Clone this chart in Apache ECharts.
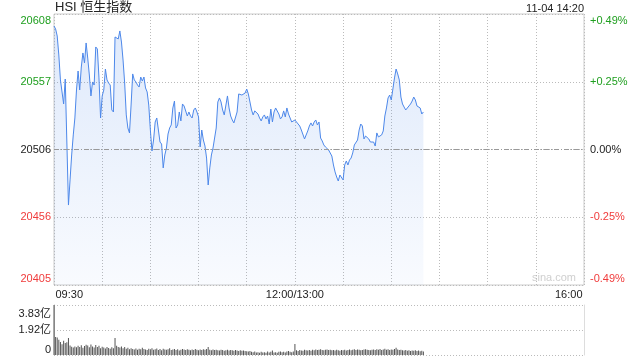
<!DOCTYPE html>
<html><head><meta charset="utf-8">
<script src="https://cdn.jsdelivr.net/npm/echarts@6/dist/echarts.min.js"></script>
<style>html,body{margin:0;padding:0;background:#fff}#c{width:640px;height:360px}</style>
</head><body><div id="c"></div>
<script>
const chartTitle = 'HSI 恒生指数';
const stampText = '11-04 14:20';
const prevClose = 20506.5;
const priceMin = 20405, priceMax = 20608;
const priceTickLabels = ['20405', '20456', '20506', '20557', '20608'];
const pctTickLabels = ['-0.49%', '-0.25%', '0.00%', '+0.25%', '+0.49%'];
const tickColors = ['#f03b3b', '#f03b3b', '#222', '#1f9f1f', '#1f9f1f'];
const volTickLabels = ['0', '1.92亿', '3.83亿'];
const volMax = 3.83;
const timeTickLabels = { 0: '09:30', 150: '12:00/13:00', 330: '16:00' };

const prices = [
20599.0,20596.8,20591.5,20577.3,20558.6,20557.8,20540.6,20559.3,20558.6,20464.9,
20483.7,20502.4,20517.4,20530.1,20551.1,20565.3,20551.1,20568.3,20578.8,20571.3,
20586.3,20575.0,20562.3,20546.6,20557.1,20554.8,20583.3,20581.8,20560.1,20530.1,
20546.6,20551.1,20566.8,20558.6,20556.3,20554.8,20536.1,20534.6,20590.8,20590.0,
20589.3,20595.3,20587.0,20573.5,20556.3,20532.4,20522.6,20518.9,20539.8,20563.1,
20558.6,20557.1,20554.8,20553.3,20560.8,20557.8,20560.8,20552.6,20549.6,20539.8,
20521.1,20505.4,20513.6,20527.1,20530.1,20521.1,20512.1,20510.6,20492.7,20502.4,
20507.6,20518.1,20522.6,20524.9,20537.6,20542.8,20522.6,20524.9,20534.6,20527.9,
20540.6,20539.1,20539.1,20531.6,20534.6,20531.6,20530.1,20536.1,20537.6,20534.6,
20530.9,20508.4,20521.1,20513.6,20509.1,20500.1,20479.9,20492.7,20502.4,20507.6,
20515.1,20522.6,20542.1,20545.1,20542.1,20536.1,20532.4,20533.1,20546.6,20537.6,
20531.6,20528.6,20526.4,20527.1,20534.6,20548.1,20548.8,20547.3,20546.6,20548.8,
20551.8,20548.1,20542.1,20536.1,20532.4,20535.4,20534.6,20533.1,20530.1,20527.9,
20530.9,20532.4,20529.4,20531.6,20525.6,20536.8,20527.1,20534.6,20537.6,20536.8,
20533.1,20529.4,20530.9,20535.4,20530.9,20537.6,20533.1,20532.4,20527.1,20527.9,
20528.6,20527.1,20527.9,20524.1,20521.1,20521.9,20514.4,20515.1,20520.4,20524.1,
20526.4,20524.1,20527.1,20528.6,20524.9,20527.1,20515.1,20512.9,20509.9,20508.4,
20509.1,20506.1,20505.4,20501.6,20494.9,20489.7,20485.9,20482.9,20487.4,20486.7,
20483.7,20494.9,20497.9,20494.9,20498.6,20500.1,20503.9,20509.9,20510.6,20513.6,
20521.1,20525.6,20524.1,20514.4,20516.6,20517.4,20514.4,20512.1,20512.1,20512.1,
20509.1,20518.9,20515.9,20515.1,20517.4,20520.4,20531.6,20537.6,20545.1,20547.3,
20543.6,20551.8,20560.1,20566.8,20563.1,20558.6,20545.8,20540.6,20538.3,20536.1,
20535.4,20539.1,20540.6,20542.8,20545.8,20543.6,20539.1,20539.1,20537.6,20533.1,20534.6
];

const volumes = [
3.83,
1.38,1.34,1.17,1.00,0.82,1.10,0.92,0.98,1.30,0.72,
0.64,0.58,0.66,0.60,0.70,0.62,0.74,0.56,0.68,0.78,
0.72,0.60,0.80,0.66,0.58,0.76,0.62,0.70,0.52,0.64,
0.58,0.50,0.62,0.54,0.48,0.60,0.52,1.30,0.70,0.62,
0.58,0.66,0.52,0.62,0.48,0.56,0.44,0.52,0.46,0.42,
0.50,0.40,0.48,0.44,0.56,0.46,0.42,0.38,0.48,0.44,
0.52,0.40,0.44,0.50,0.38,0.46,0.36,0.48,0.42,0.40,
0.44,0.52,0.38,0.42,0.46,0.38,0.44,0.34,0.40,0.46,
0.42,0.38,0.44,0.40,0.36,0.42,0.38,0.46,0.40,0.36,
0.42,0.38,0.44,0.40,0.46,0.62,0.40,0.36,0.42,0.38,
0.40,0.36,0.34,0.40,0.38,0.32,0.36,0.40,0.34,0.38,
0.36,0.32,0.38,0.34,0.30,0.36,0.32,0.34,0.30,0.28,
0.26,0.30,0.24,0.22,0.26,0.20,0.22,0.18,0.24,0.20,
0.22,0.18,0.26,0.20,0.24,0.34,0.20,0.22,0.18,0.24,
0.26,0.22,0.24,0.20,0.26,0.30,0.24,0.22,0.26,0.85,
0.36,0.30,0.38,0.34,0.32,0.40,0.36,0.34,0.38,0.32,
0.40,0.36,0.42,0.38,0.40,0.44,0.38,0.36,0.40,0.42,
0.38,0.40,0.36,0.38,0.34,0.40,0.36,0.32,0.38,0.36,
0.40,0.34,0.38,0.42,0.36,0.40,0.44,0.38,0.42,0.40,
0.36,0.38,0.42,0.44,0.40,0.38,0.36,0.40,0.42,0.38,
0.44,0.40,0.46,0.38,0.42,0.48,0.40,0.44,0.38,0.42,
0.40,0.46,0.55,0.42,0.38,0.40,0.36,0.34,0.38,0.32,
0.36,0.30,0.34,0.32,0.36,0.30,0.34,0.28,0.32,0.26
];

// minute categories: 09:30..12:00 then 13:01..16:00
const times = [];
function pad(n) { return (n < 10 ? '0' : '') + n; }
for (let m = 9 * 60 + 30; m <= 12 * 60; m++) times.push(pad(Math.floor(m / 60)) + ':' + pad(m % 60));
for (let m = 13 * 60 + 1; m <= 16 * 60; m++) times.push(pad(Math.floor(m / 60)) + ':' + pad(m % 60));

const FONT = 'Arial, "Liberation Sans", "Noto Sans CJK SC", sans-serif';
const priceInterval = (priceMax - priceMin) / 4;
const volInterval = volMax / 2;
const chart = echarts.init(document.getElementById('c'), null, { renderer: 'canvas' });

function volAxis(which, valign, pad) {
  return {
    type: 'value', gridIndex: 1, min: 0, max: volMax, interval: volInterval, position: 'left',
    axisLine: { show: false }, axisTick: { show: false }, splitLine: { show: false },
    axisLabel: {
      margin: 3, fontSize: 11, fontFamily: FONT, color: '#222', verticalAlign: valign, padding: pad,
      showMinLabel: true, showMaxLabel: true,
      formatter: function (v) { const k = Math.round(v / volInterval); return k === which ? volTickLabels[k] : ''; }
    }
  };
}

chart.setOption({
  animation: false,
  backgroundColor: '#fff',
  title: [
    { text: chartTitle, left: 55, top: 1, padding: 0, textStyle: { fontSize: 13, fontWeight: 'normal', color: '#222', fontFamily: FONT } },
    { text: stampText, right: 56, top: 3, padding: 0, textStyle: { fontSize: 11, fontWeight: 'normal', color: '#222', fontFamily: FONT } }
  ],
  graphic: [
    { type: 'text', right: 64, top: 272, style: { text: 'sina.com', fill: '#cfcfcf', font: '11px ' + FONT } }
  ],
  grid: [
    { left: 54, right: 56, top: 14, height: 271, show: true, borderColor: '#ccc', borderWidth: 1, backgroundColor: 'transparent' },
    { left: 54, right: 56, top: 305, height: 50, show: false }
  ],
  xAxis: [
    {
      type: 'category', gridIndex: 0, data: times, boundaryGap: false,
      axisLine: { show: false }, axisTick: { show: false },
      axisLabel: {
        interval: 0, margin: 4, fontSize: 11, color: '#222', fontFamily: FONT,
        formatter: function (v, i) {
          if (!(i in timeTickLabels)) return '';
          if (i === 0) return '{l|' + timeTickLabels[i] + '}';
          if (i === times.length - 1) return '{r|' + timeTickLabels[i] + '}';
          return timeTickLabels[i];
        },
        rich: { l: { width: 58, align: 'right', fontSize: 11, fontFamily: FONT, color: '#222' },
                r: { width: 58, align: 'left', fontSize: 11, fontFamily: FONT, color: '#222' } }
      },
      splitLine: { show: true, interval: function (i) { return i % 30 === 0; }, lineStyle: { color: '#bbb', type: [1, 2] } }
    },
    {
      type: 'category', gridIndex: 1, data: times, boundaryGap: false,
      axisLine: { show: false }, axisTick: { show: false }, axisLabel: { show: false }, splitLine: { show: false }
    }
  ],
  yAxis: [
    {
      type: 'value', gridIndex: 0, min: priceMin, max: priceMax, interval: priceInterval,
      axisLine: { show: false }, axisTick: { show: false },
      axisLabel: {
        margin: 3, fontSize: 11, fontFamily: FONT, lineHeight: 13, showMinLabel: true, showMaxLabel: true,
        color: function (v, i) { return tickColors[Math.round((v - priceMin) / priceInterval)]; },
        formatter: function (v) { const k = Math.round((v - priceMin) / priceInterval); return k === 4 ? '\n' + priceTickLabels[k] : (k === 0 ? priceTickLabels[k] + '\n' : priceTickLabels[k]); }
      },
      splitLine: { show: true, lineStyle: { color: '#bbb', type: [1, 2] } }
    },
    {
      type: 'value', gridIndex: 0, min: priceMin, max: priceMax, interval: priceInterval, position: 'right',
      axisLine: { show: false }, axisTick: { show: false }, splitLine: { show: false },
      axisLabel: {
        margin: 6, fontSize: 11, fontFamily: FONT, lineHeight: 13, showMinLabel: true, showMaxLabel: true,
        color: function (v, i) { return tickColors[Math.round((v - priceMin) / priceInterval)]; },
        formatter: function (v) { const k = Math.round((v - priceMin) / priceInterval); return k === 4 ? '\n' + pctTickLabels[k] : (k === 0 ? pctTickLabels[k] + '\n' : pctTickLabels[k]); }
      }
    },
    {
      type: 'value', gridIndex: 1, min: 0, max: volMax, interval: volInterval, position: 'left',
      axisLine: { show: true, lineStyle: { color: '#bbb' } }, axisTick: { show: false },
      axisLabel: {
        margin: 3, fontSize: 11, fontFamily: FONT, color: '#222', showMinLabel: true, showMaxLabel: true,
        formatter: function (v) { const k = Math.round(v / volInterval); return k === 1 ? volTickLabels[k] : ''; }
      },
      splitLine: { show: true, lineStyle: { color: '#bbb', type: [1, 2] } }
    },
    {
      type: 'value', gridIndex: 1, min: 0, max: volMax, position: 'right',
      axisLine: { show: true, lineStyle: { color: '#ddd' } }, axisTick: { show: false }, axisLabel: { show: false }, splitLine: { show: false }
    },
    volAxis(2, 'top', [3, 0, 0, 0]),
    volAxis(0, 'bottom', [0, 0, 0, 0])
  ],
  series: [
    {
      type: 'line', xAxisIndex: 0, yAxisIndex: 0, data: prices, showSymbol: false, symbol: 'none',
      lineStyle: { color: '#4d88ea', width: 1 },
      areaStyle: {
        origin: 'start',
        color: new echarts.graphic.LinearGradient(0, 0, 0, 1, [
          { offset: 0, color: 'rgba(77,136,234,0.26)' },
          { offset: 1, color: 'rgba(77,136,234,0.05)' }
        ])
      },
      markLine: {
        silent: true, symbol: 'none', label: { show: false },
        lineStyle: { color: '#999', type: [5, 2, 1, 2], width: 1 },
        data: [{ yAxis: prevClose }]
      }
    },
    {
      type: 'bar', xAxisIndex: 1, yAxisIndex: 2, data: volumes, barWidth: 1, clip: false,
      itemStyle: { color: '#555' }
    }
  ]
});
</script>
</body></html>
